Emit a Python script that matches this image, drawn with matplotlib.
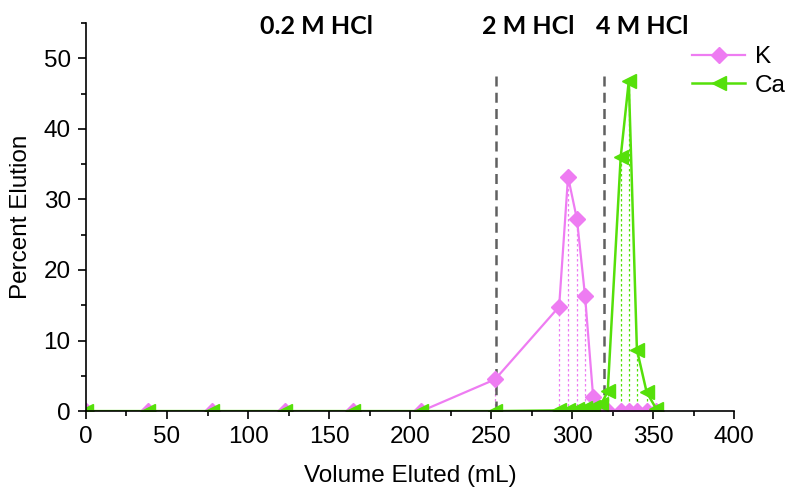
import matplotlib
matplotlib.use("Agg")
import matplotlib.pyplot as plt
from matplotlib.ticker import MultipleLocator

# Elution fractions (mL) and percent eluted per fraction
k_volume = [0, 38, 78, 123, 165, 207, 252.5, 292, 297.5, 303, 308, 313,
            318, 322, 330, 335, 340, 346, 352]
k_percent = [0, 0, 0, 0, 0, 0, 4.5, 14.8, 33.2, 27.2, 16.3, 2.0,
             0, 0, 0, 0, 0, 0, 0]

ca_volume = [0, 38, 78, 123, 165, 207, 252.5, 292, 297.5, 303, 308, 313,
             318, 322, 330, 335, 340, 346, 352]
ca_percent = [0, 0, 0, 0, 0, 0, 0, 0.1, 0.2, 0.3, 0.4, 0.6,
              1.0, 2.8, 36.0, 46.8, 8.7, 2.7, 0.3]

# Acid strength changes
switch_volumes = [253, 320]
switch_top = 48.3
acid_labels = ["0.2 M HCl", "2 M HCl", "4 M HCl"]
acid_label_x = [142, 273, 343]

k_color = "#EE7CF2"
ca_color = "#55E00A"
font = "Liberation Sans"
fs = 17.5

fig = plt.figure(figsize=(7.86, 4.90), dpi=100)
ax = fig.add_axes([0.1094, 0.161, 0.8246, 0.792])

# dotted drop lines from each point to the baseline
ax.vlines(k_volume, 0, k_percent, colors=k_color, linestyles=(0, (2, 2)),
          linewidth=0.9, zorder=1)
ax.vlines(ca_volume, 0, ca_percent, colors=ca_color, linestyles=(0, (2, 2)),
          linewidth=0.9, zorder=1)

ax.plot(k_volume, k_percent, color=k_color, marker="D", markersize=8.5,
        linewidth=1.6, label="K", zorder=3)
ax.plot(ca_volume, ca_percent, color=ca_color, marker="<", markersize=10.5,
        linewidth=1.8, label="Ca", zorder=4)

for xv in switch_volumes:
    ax.plot([xv, xv], [0, switch_top], color="#606060", linewidth=1.8,
            linestyle=(0, (4, 2.5)), zorder=2)

for lbl, xv in zip(acid_labels, acid_label_x):
    ax.text(xv, 54.5, lbl, ha="center", va="center", fontsize=18,
            fontweight="bold", family="Lato", clip_on=False)

ax.set_xlim(0, 400)
ax.set_ylim(0, 55)
ax.xaxis.set_major_locator(MultipleLocator(50))
ax.xaxis.set_minor_locator(MultipleLocator(25))
ax.yaxis.set_major_locator(MultipleLocator(10))
ax.yaxis.set_minor_locator(MultipleLocator(5))
ax.set_yticks(range(0, 51, 10))

for side in ("top", "right"):
    ax.spines[side].set_visible(False)
for side in ("left", "bottom"):
    ax.spines[side].set_linewidth(1.2)
    ax.spines[side].set_zorder(5)

ax.tick_params(which="major", direction="out", length=6, width=1.2,
               labelsize=fs, pad=5)
ax.tick_params(which="minor", direction="out", length=3.5, width=1.2)
for t in ax.get_xticklabels() + ax.get_yticklabels():
    t.set_family(font)

ax.set_xlabel("Volume Eluted (mL)", fontsize=fs, family=font, labelpad=12)
ax.set_ylabel("Percent Elution", fontsize=fs, family=font, labelpad=8)

leg = ax.legend(loc="upper left", bbox_to_anchor=(0.868, 0.925),
                bbox_transform=fig.transFigure, frameon=False,
                prop={"family": font, "size": fs},
                handlelength=2.2, handletextpad=0.4, labelspacing=0.25,
                borderaxespad=0)

fig.savefig("out.png", dpi=100)
